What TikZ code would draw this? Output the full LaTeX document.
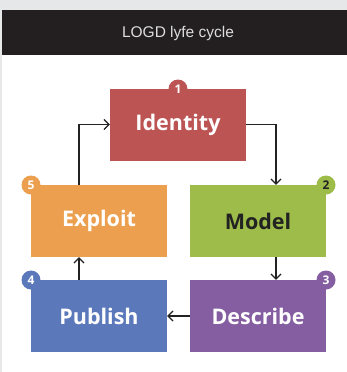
\documentclass[tikz,border=0pt]{standalone}
\usepackage{fontspec}
\setmainfont{Liberation Sans}
\newfontfamily\boxfont{Open Sans}
\usetikzlibrary{arrows.meta}
\definecolor{bandgray}{HTML}{E6E7E9}
\definecolor{bandblack}{HTML}{231F20}
\definecolor{titlegray}{HTML}{DDDDDD}
\definecolor{cred}{HTML}{BC5453}
\definecolor{corange}{HTML}{ECA04F}
\definecolor{cgreen}{HTML}{9DBC4A}
\definecolor{cblue}{HTML}{5B78BB}
\definecolor{cpurple}{HTML}{845EA0}
\definecolor{ink}{HTML}{222222}
\tikzset{
  x=1pt,y=-1pt,
  stagebox/.style={minimum width=136pt,minimum height=72pt,inner sep=0pt,font=\boxfont\bfseries\fontsize{21.5}{22}\selectfont,text=white},
  badge/.style={circle,minimum size=19pt,inner sep=0pt,font=\boxfont\bfseries\fontsize{12}{12}\selectfont,text=white},
  link/.style={draw=ink,line width=1.2pt,-{Straight Barb[length=5pt,width=10pt,line width=1.2pt]}}
}
\begin{document}
\begin{tikzpicture}
\useasboundingbox (0,0) rectangle (347,372);
\fill[bandgray] (0,0) rectangle (347,372);
\fill[white] (2,10) rectangle (347,372);
\fill[bandblack] (2,10) rectangle (347,55);
\node[text=titlegray,font=\fontsize{15.5}{15.5}\selectfont] (title) at (178,33) {LOGD lyfe cycle};

\node[badge,fill=cred] (b1) at (178,89) {};
\node[badge,fill=cgreen] (b2) at (326,185) {};
\node[badge,fill=cpurple] (b3) at (326,280) {};
\node[badge,fill=cblue] (b4) at (31,280) {};
\node[badge,fill=corange] (b5) at (31,185) {};

\node[stagebox,fill=cred] (identity) at (178,124.5) {Identity};
\node[stagebox,fill=corange] (exploit) at (99,221) {Exploit};
\node[stagebox,fill=cgreen,text=ink] (model) at (258,221) {Model};
\node[stagebox,fill=cblue] (publish) at (99,316) {Publish};
\node[stagebox,fill=cpurple] (describe) at (258,316) {Describe};

\node[badge] at (b1) {1};
\node[badge,text=ink] at (b2) {2};
\node[badge] at (b3) {3};
\node[badge] at (b4) {4};
\node[badge] at (b5) {5};

\coordinate (c1) at (79,124.5);
\coordinate (c2) at (276,124.5);
\draw[link] ([xshift=-20pt]exploit.north) -- (c1) -- (identity.west);
\draw[link] (identity.east) -- (c2) -- ([xshift=18pt]model.north);
\draw[link] ([xshift=18pt]model.south) -- ([xshift=18pt]describe.north);
\draw[link] (describe.west) -- (publish.east);
\draw[link] ([xshift=-20pt]publish.north) -- ([xshift=-20pt]exploit.south);
\end{tikzpicture}
\end{document}
